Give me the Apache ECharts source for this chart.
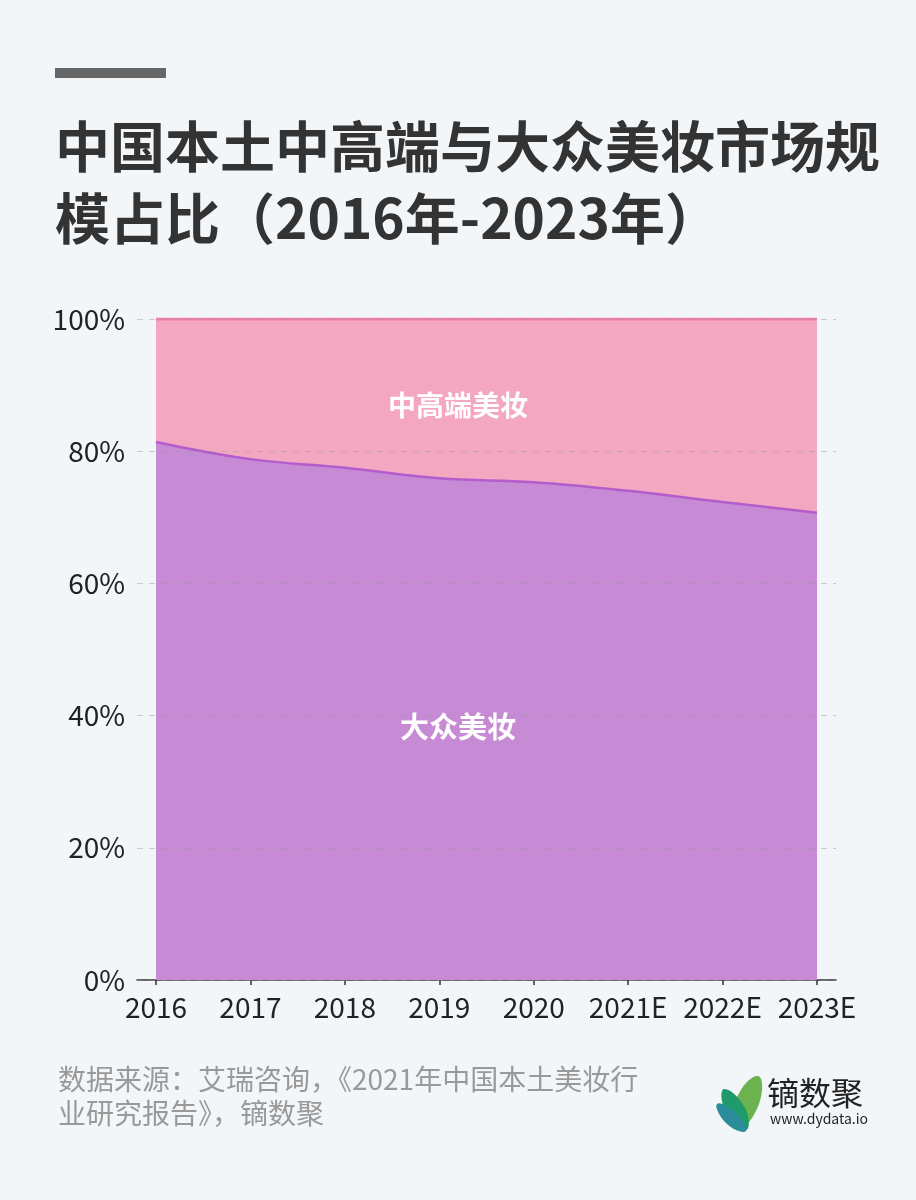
<!DOCTYPE html>
<html>
<head>
<meta charset="utf-8">
<script src="https://cdn.jsdelivr.net/npm/echarts@6/dist/echarts.min.js"></script>
<style>
  html, body { margin: 0; padding: 0; background: #f3f6f9; }
  #chart { width: 916px; height: 1200px; }
</style>
</head>
<body>
<div id="chart"></div>
<script>
// 数据
const years = ['2016', '2017', '2018', '2019', '2020', '2021E', '2022E', '2023E']
const massShare = [81.4, 78.8, 77.5, 75.9, 75.3, 74.0, 72.3, 70.7]
const premiumShare = massShare.map(v => +(100 - v).toFixed(1))
const yTicks = [0, 20, 40, 60, 80, 100]

const font = '"Noto Sans CJK SC", "Noto Sans", sans-serif'

let myChart = echarts.init(document.getElementById('chart'))
myChart.setOption({
  backgroundColor: '#f3f6f9',
  textStyle: { fontFamily: font },
  grid: [
    // 外层：网格线和坐标轴线
    { left: 137, right: 80, top: 319, bottom: 220 },
    // 内层：面积图
    { left: 156, right: 99, top: 319, bottom: 220 },
  ],
  xAxis: [
    {
      gridIndex: 0,
      type: 'category',
      data: years,
      axisLine: { lineStyle: { color: '#333', width: 1.5 } },
      axisTick: { show: false },
      axisLabel: { show: false },
    },
    {
      gridIndex: 1,
      type: 'category',
      boundaryGap: false,
      data: years,
      axisLine: { show: false },
      axisTick: { show: true, length: 5, alignWithLabel: true, lineStyle: { color: '#333', width: 1.5 } },
      axisLabel: { color: '#222', fontSize: 28, margin: 13, fontFamily: font, interval: 0 },
    },
  ],
  yAxis: [
    {
      gridIndex: 0,
      type: 'value',
      min: 0,
      max: 100,
      interval: 20,
      z: 5,
      axisLine: { show: false },
      axisTick: { show: false },
      axisLabel: {
        color: '#222',
        fontSize: 28,
        margin: 12,
        fontFamily: font,
        formatter: v => (yTicks.includes(v) ? v + '%' : ''),
      },
      splitLine: { lineStyle: { color: 'rgba(150,150,150,0.45)', type: [6, 6], width: 1 } },
    },
    {
      gridIndex: 1,
      type: 'value',
      min: 0,
      max: 100,
      interval: 20,
      show: false,
    },
  ],
  series: [
    {
      name: '大众美妆',
      type: 'line',
      xAxisIndex: 1,
      yAxisIndex: 1,
      stack: 'total',
      smooth: 0.4,
      symbol: 'none',
      lineStyle: { color: '#b35ccd', width: 2.5 },
      areaStyle: { color: '#c78ad4', opacity: 1 },
      data: massShare,
    },
    {
      name: '中高端美妆',
      type: 'line',
      xAxisIndex: 1,
      yAxisIndex: 1,
      stack: 'total',
      smooth: 0.4,
      symbol: 'none',
      lineStyle: { color: '#f07eab', width: 3 },
      areaStyle: { color: '#f3a7c1', opacity: 1 },
      data: premiumShare,
    },
  ],
  graphic: [
    { type: 'rect', shape: { x: 55, y: 68, width: 111, height: 10 }, style: { fill: '#666' } },
    {
      type: 'text',
      x: 55,
      y: 110,
      style: {
        text: '中国本土中高端与大众美妆市场规\n模占比（2016年-2023年）',
        fontSize: 55,
        fontWeight: 'bold',
        lineHeight: 72,
        fill: '#333',
        fontFamily: font,
      },
    },
    {
      type: 'text',
      x: 458,
      y: 405,
      z: 10,
      style: {
        text: '中高端美妆',
        fontSize: 28,
        fontWeight: 'bold',
        fill: '#fff',
        align: 'center',
        verticalAlign: 'middle',
        fontFamily: font,
      },
    },
    {
      type: 'text',
      x: 458,
      y: 727,
      z: 10,
      style: {
        text: '大众美妆',
        fontSize: 29,
        fontWeight: 'bold',
        fill: '#fff',
        align: 'center',
        verticalAlign: 'middle',
        fontFamily: font,
      },
    },
    {
      type: 'text',
      x: 58,
      y: 1062,
      style: {
        text: '数据来源：艾瑞咨询，《2021年中国本土美妆行\n业研究报告》，镝数聚',
        fontSize: 28,
        lineHeight: 34,
        fill: '#999',
        fontFamily: font,
      },
    },
    // logo 叶子
    {
      type: 'polygon',
      shape: { points: [[739, 1128], [736, 1100], [758, 1076], [759, 1104]], smooth: 0.5 },
      style: { fill: '#6cb34f' },
    },
    {
      type: 'polygon',
      shape: { points: [[746, 1130], [726, 1112], [724, 1089], [745, 1108]], smooth: 0.5 },
      style: { fill: '#1f9a6c' },
    },
    {
      type: 'polygon',
      shape: { points: [[746, 1131], [727, 1124], [717, 1104], [737, 1114]], smooth: 0.5 },
      style: { fill: '#2a8d99' },
    },
    {
      type: 'text',
      x: 767,
      y: 1077,
      style: { text: '镝数聚', fontSize: 32, fill: '#222', fontFamily: font },
    },
    {
      type: 'text',
      x: 770,
      y: 1112,
      style: { text: 'www.dydata.io', fontSize: 14, fill: '#222', fontFamily: font },
    },
  ],
})
</script>
</body>
</html>
